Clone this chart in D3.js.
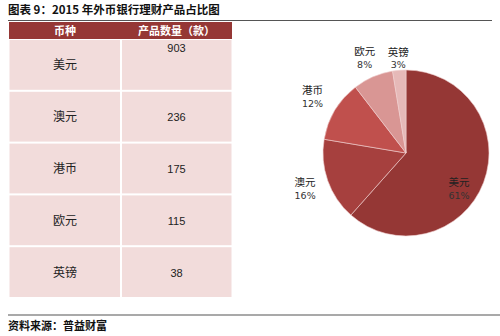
<!DOCTYPE html>
<html>
<head>
<meta charset="utf-8">
<script src="https://cdn.jsdelivr.net/npm/d3@7"></script>
<style>
  body { margin: 0; background: #fff; }
  svg text { font-family: "Noto Sans CJK SC", "Liberation Sans", sans-serif; }
</style>
</head>
<body>
<div id="chart"></div>
<script>
// currency names and product counts
const currencies = ["美元", "澳元", "港币", "欧元", "英镑"];
const counts = [903, 236, 175, 115, 38];
const percentLabels = ["61%", "16%", "12%", "8%", "3%"];
const sliceColors = ["#953735", "#a6403e", "#c0504d", "#d99694", "#e6b9b8"];
const headers = ["币种", "产品数量（款）"];

const width = 500, height = 336;

const svg = d3.select("#chart").append("svg")
    .attr("width", width)
    .attr("height", height);

// title + rule
svg.append("text")
    .attr("x", 8).attr("y", 14)
    .attr("font-size", 11.5).attr("font-weight", "bold")
    .attr("fill", "#111")
    .text("图表 9：2015 年外币银行理财产品占比图");

svg.append("line")
    .attr("x1", 8).attr("x2", 492)
    .attr("y1", 20.5).attr("y2", 20.5)
    .attr("stroke", "#555").attr("stroke-width", 1.2);

// table
const table = {x0: 9, x1: 232, split: 121, headTop: 22, headBottom: 39, bottom: 298};

const rowScale = d3.scaleBand()
    .domain(currencies)
    .range([table.headBottom, table.bottom]);

const tbl = svg.append("g");

tbl.append("rect")
    .attr("x", table.x0).attr("y", table.headTop)
    .attr("width", table.x1 - table.x0).attr("height", table.headBottom - table.headTop)
    .attr("fill", "#953735");

tbl.selectAll(".head")
    .data(headers)
    .enter().append("text")
    .attr("x", (d, i) => i === 0 ? (table.x0 + table.split) / 2 : (table.split + table.x1) / 2)
    .attr("y", table.headBottom - 4.5)
    .attr("text-anchor", "middle")
    .attr("font-size", 11).attr("font-weight", "bold")
    .attr("fill", "#fff")
    .text(d => d);

const rows = tbl.selectAll(".row")
    .data(currencies)
    .enter().append("g");

rows.append("rect")
    .attr("x", table.x0 + 0.5)
    .attr("y", d => rowScale(d) + 1)
    .attr("width", table.split - table.x0 - 1.5)
    .attr("height", rowScale.bandwidth() - 2)
    .attr("fill", "#f2dcdb");

rows.append("rect")
    .attr("x", table.split + 1)
    .attr("y", d => rowScale(d) + 1)
    .attr("width", table.x1 - table.split - 1.5)
    .attr("height", rowScale.bandwidth() - 2)
    .attr("fill", "#f2dcdb");

rows.append("text")
    .attr("x", (table.x0 + table.split) / 2)
    .attr("y", d => rowScale(d) + rowScale.bandwidth() / 2 + 4.5)
    .attr("text-anchor", "middle")
    .attr("font-size", 12)
    .attr("fill", "#222")
    .text(d => d);

// the first value sits at top of its cell in the original
rows.append("text")
    .attr("x", (table.split + table.x1) / 2)
    .attr("y", (d, i) => i === 0 ? rowScale(d) + 13 : rowScale(d) + rowScale.bandwidth() / 2 + 4.5)
    .attr("text-anchor", "middle")
    .attr("font-size", 11)
    .style("font-family", "'Liberation Sans', Arial, sans-serif")
    .attr("fill", "#222")
    .text((d, i) => counts[i]);

// pie
const cx = 406, cy = 153, r = 83;

const pie = d3.pie().sort(null).value(d => d);
const arcs = pie(counts);
const arc = d3.arc().innerRadius(0).outerRadius(r);

const pg = svg.append("g").attr("transform", `translate(${cx},${cy})`);

pg.selectAll("path")
    .data(arcs)
    .enter().append("path")
    .attr("d", arc)
    .attr("fill", (d, i) => sliceColors[i])
    .attr("stroke", "#f0d0d0")
    .attr("stroke-width", 0.6);

// label distance from centre (first one sits inside the slice)
const labelDist = [64, 107, 109, 104, 95];
const labelTurn = [0.23, 0, 0, 0, 0];

const labels = pg.selectAll(".lbl")
    .data(arcs)
    .enter().append("g")
    .attr("transform", (d, i) => {
        const a = (d.startAngle + d.endAngle) / 2 + labelTurn[i];
        return `translate(${Math.sin(a) * labelDist[i]},${-Math.cos(a) * labelDist[i]})`;
    });

labels.append("text")
    .attr("text-anchor", "middle")
    .attr("y", -2.5)
    .attr("font-size", 10.5)
    .attr("fill", "#222")
    .text((d, i) => currencies[i]);

labels.append("text")
    .attr("text-anchor", "middle")
    .attr("y", 10)
    .attr("font-size", 9.5)
    .style("font-family", "'DejaVu Sans', sans-serif")
    .attr("fill", "#333")
    .text((d, i) => percentLabels[i]);

// footer
svg.append("line")
    .attr("x1", 8).attr("x2", 500)
    .attr("y1", 315).attr("y2", 315)
    .attr("stroke", "#555").attr("stroke-width", 1.2);

svg.append("text")
    .attr("x", 8).attr("y", 330)
    .attr("font-size", 11).attr("font-weight", "bold")
    .attr("fill", "#111")
    .text("资料来源：普益财富");
</script>
</body>
</html>
